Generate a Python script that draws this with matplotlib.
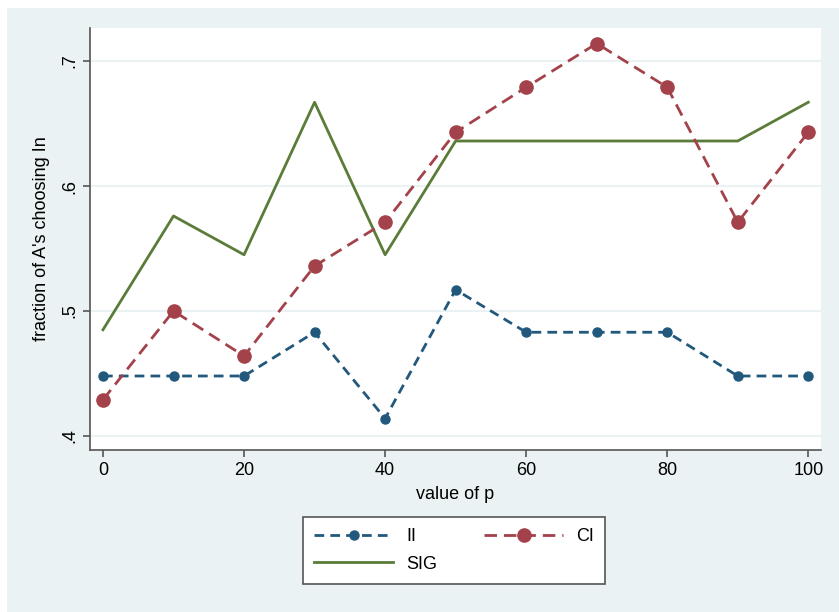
import matplotlib
matplotlib.use("Agg")
import matplotlib.pyplot as plt
from matplotlib.patches import Rectangle

plt.rcParams['font.family'] = ['Liberation Sans', 'DejaVu Sans']

p = [0, 10, 20, 30, 40, 50, 60, 70, 80, 90, 100]
ii = [0.448, 0.448, 0.448, 0.483, 0.414, 0.517, 0.483, 0.483, 0.483, 0.448, 0.448]
ci = [0.429, 0.500, 0.464, 0.536, 0.571, 0.643, 0.679, 0.714, 0.679, 0.571, 0.643]
sig = [0.485, 0.576, 0.545, 0.667, 0.545, 0.636, 0.636, 0.636, 0.636, 0.636, 0.667]

y_ticks = [0.4, 0.5, 0.6, 0.7]
y_labels = ['.4', '.5', '.6', '.7']
x_ticks = [0, 20, 40, 60, 80, 100]

BG = '#eaf2f3'
C_II = '#21587c'
C_CI = '#a4424b'
C_SIG = '#5a7c38'

W, H = 839, 612
fig = plt.figure(figsize=(W / 100, H / 100), dpi=100)
fig.patch.set_facecolor('white')
fig.patches.append(Rectangle((7 / W, 0), 1, 1 - 8 / H, transform=fig.transFigure,
                             facecolor=BG, edgecolor='none', zorder=-5))

ax = fig.add_axes([90 / W, 1 - 450 / H, 731 / W, 422 / H])
ax.set_facecolor('white')

ax.plot(p, ii, color=C_II, lw=2, dashes=(3.5, 2.2), marker='o', ms=6.5, label='II')
ax.plot(p, sig, color=C_SIG, lw=2, label='SIG')
ax.plot(p, ci, color=C_CI, lw=2, dashes=(4.5, 2.5), marker='o', ms=9.5, label='CI')

ax.set_xlim(-1.84, 101.8)
ax.set_ylim(0.3888, 0.7264)
ax.set_yticks(y_ticks)
ax.set_yticklabels(y_labels, rotation=90, va='center')
ax.set_xticks(x_ticks)
ax.grid(axis='y', color=BG, lw=1.5)
ax.set_axisbelow(True)

for s in ['top', 'right']:
    ax.spines[s].set_visible(False)
for s in ['left', 'bottom']:
    ax.spines[s].set_color('#555555')
    ax.spines[s].set_linewidth(1.2)
ax.tick_params(colors='#555555', labelcolor='black', labelsize=13, length=5, width=1.2)

ax.set_xlabel('value of p', fontsize=13, labelpad=5)
ax.set_ylabel("fraction of A's choosing In", fontsize=13, labelpad=8)

leg = fig.legend(loc='upper center', bbox_to_anchor=(454 / W, 1 - 517 / H), ncol=2,
                 fontsize=13, handlelength=4.4, handletextpad=0.7, columnspacing=2.6,
                 frameon=True, fancybox=False, framealpha=1, facecolor='white',
                 borderpad=0.6, labelspacing=0.6, borderaxespad=0)
leg.get_frame().set_edgecolor('#555555')
leg.get_frame().set_linewidth(1.2)

fig.savefig('out.png', dpi=100)
